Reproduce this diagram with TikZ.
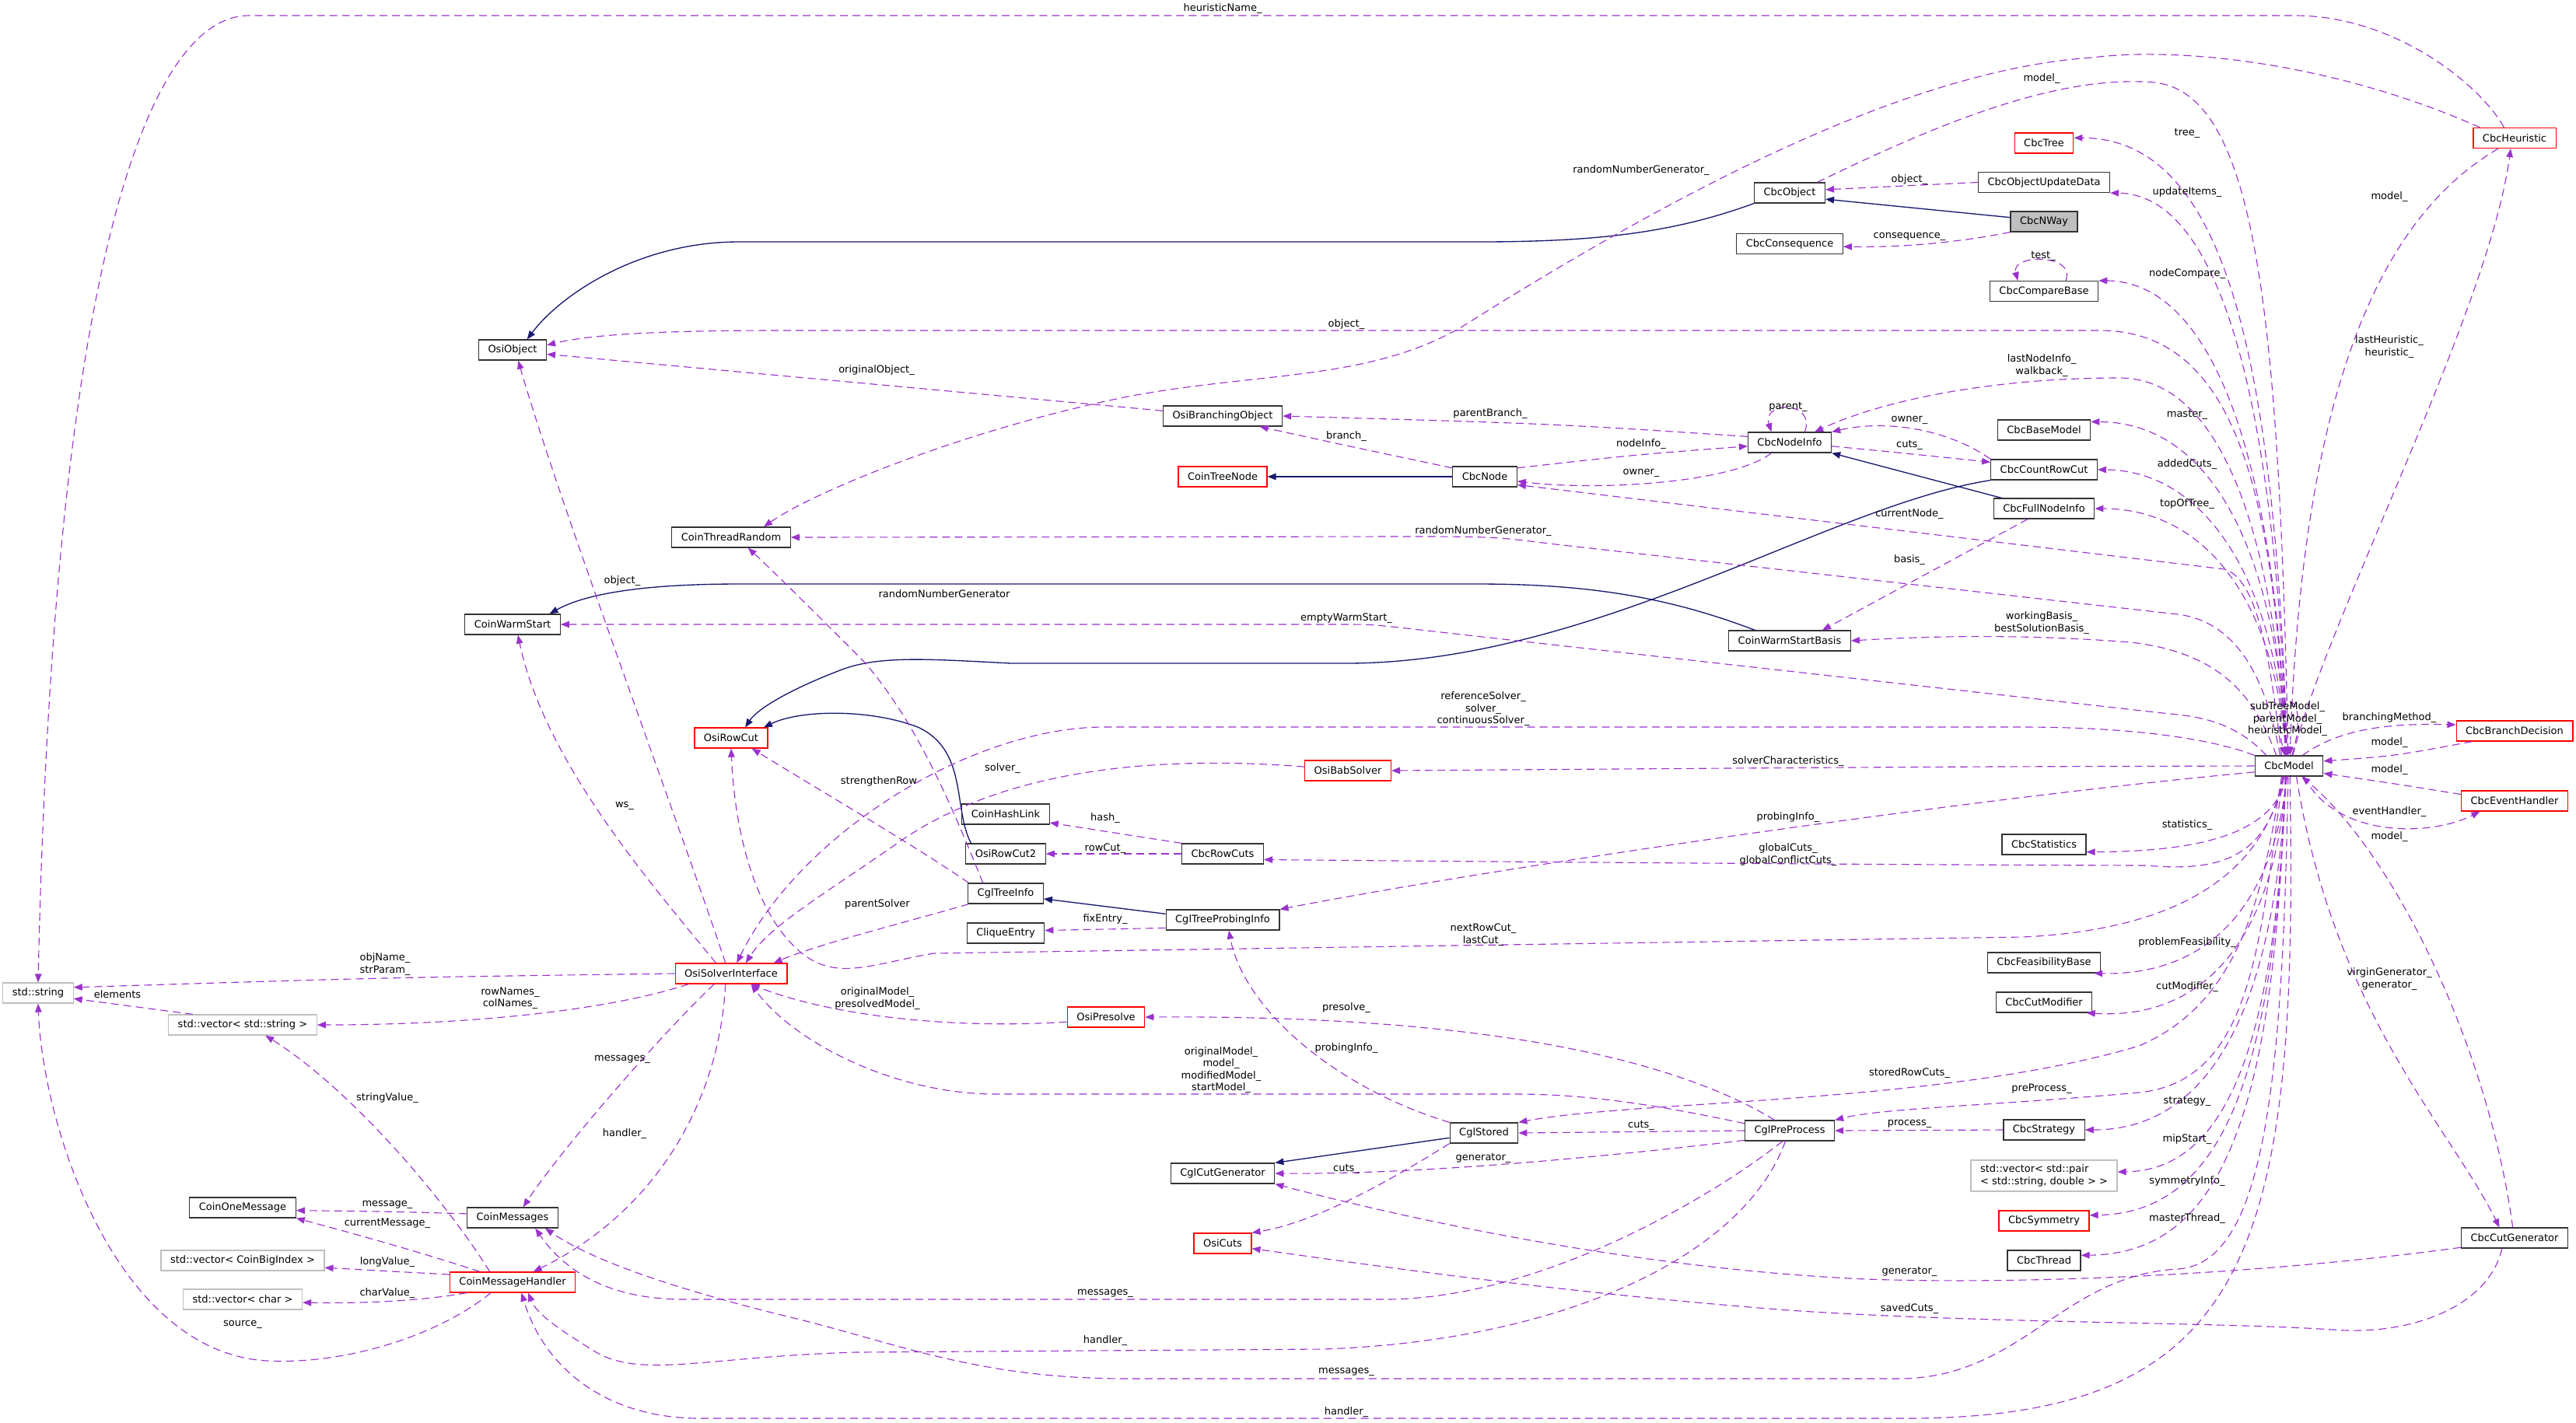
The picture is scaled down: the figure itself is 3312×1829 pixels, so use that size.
\documentclass[tikz,border=0pt]{standalone}
\usepackage{fontspec}
\setmainfont{DejaVu Sans}
\usetikzlibrary{arrows.meta}
\definecolor{usecol}{HTML}{9A32CD}
\definecolor{inhcol}{HTML}{191970}
\definecolor{grey75}{HTML}{BFBFBF}

\begin{document}
\begin{tikzpicture}[
  x=0.01cm, y=-0.01cm,
  font=\fontsize{3.7}{4.4}\selectfont,
  cls/.style={draw=black!80, line width=0.35pt, fill=white, minimum height=0.26cm, inner xsep=0.12cm, inner ysep=0pt},
  clsred/.style={cls, draw=red},
  clsgray/.style={cls, draw=grey75},
  clsmain/.style={cls, fill=grey75},
  usage/.style={-{Triangle[length=1.1mm, width=0.85mm]}, usecol, line width=0.32pt, dash pattern=on 1mm off 0.6mm},
  inh/.style={-{Triangle[length=1.1mm, width=0.85mm]}, inhcol, line width=0.38pt},
  lbl/.style={inner sep=0pt, align=center, text=black},
]
\fill[white] (0,0) rectangle (3312,1829);

% ---- classes, at the pixel positions of the graph ----
\node[clsred]  (heur)      at (3233,177.5) {CbcHeuristic};
\node[clsred]  (tree)      at (2628,184)   {CbcTree};
\node[cls]     (cbcobj)    at (2301,248)   {CbcObject};
\node[cls]     (updata)    at (2628,234.5) {CbcObjectUpdateData};
\node[clsmain] (nway)      at (2628,285)   {CbcNWay};
\node[cls]     (conseq)    at (2301,313.5) {CbcConsequence};
\node[cls]     (cmpbase)   at (2628,374.5) {CbcCompareBase};
\node[cls]     (osiobj)    at (659,450)    {OsiObject};
\node[cls]     (branchobj) at (1572,535)   {OsiBranchingObject};
\node[cls]     (nodeinfo)  at (2301,569)   {CbcNodeInfo};
\node[cls]     (basemodel) at (2628,553)   {CbcBaseModel};
\node[cls]     (countcut)  at (2628,604)   {CbcCountRowCut};
\node[clsred]  (treenode)  at (1572,613)   {CoinTreeNode};
\node[cls]     (cbcnode)   at (1909,613)   {CbcNode};
\node[cls]     (fullinfo)  at (2628,654)   {CbcFullNodeInfo};
\node[cls]     (random)    at (940,691)    {CoinThreadRandom};
\node[cls]     (warm)      at (659,803)    {CoinWarmStart};
\node[cls]     (warmbasis) at (2301,824)   {CoinWarmStartBasis};
\node[clsred]  (rowcut)    at (940,949)    {OsiRowCut};
\node[clsred]  (babsolver) at (1733,991)   {OsiBabSolver};
\node[cls]     (model)     at (2943,985)   {CbcModel};
\node[clsred]  (branchdec) at (3233,940)   {CbcBranchDecision};
\node[clsred]  (evhandler) at (3233,1030)  {CbcEventHandler};
\node[cls]     (hashlink)  at (1293,1047)  {CoinHashLink};
\node[cls]     (rowcut2)   at (1293,1098)  {OsiRowCut2};
\node[cls]     (rowcuts)   at (1572,1098)  {CbcRowCuts};
\node[cls]     (stats)     at (2628,1086)  {CbcStatistics};
\node[cls]     (treeinfo)  at (1293,1149)  {CglTreeInfo};
\node[cls]     (probinfo)  at (1572,1183)  {CglTreeProbingInfo};
\node[cls]     (clique)    at (1293,1200)  {CliqueEntry};
\node[clsgray] (string)    at (49,1277)    {std::string};
\node[clsred]  (solver)    at (940,1252)   {OsiSolverInterface};
\node[clsgray] (vecstring) at (312,1318)   {std::vector< std::string >};
\node[clsred]  (presolve)  at (1422,1308)  {OsiPresolve};
\node[cls]     (feasbase)  at (2628,1238)  {CbcFeasibilityBase};
\node[cls]     (cutmod)    at (2628,1289)  {CbcCutModifier};
\node[cls]     (stored)    at (1908,1457)  {CglStored};
\node[cls]     (preproc)   at (2301,1454)  {CglPreProcess};
\node[cls]     (strategy)  at (2628,1453)  {CbcStrategy};
\node[cls]     (cutgen)    at (1572,1509)  {CglCutGenerator};
\node[clsgray, align=left, minimum height=0.4cm] (vecpair) at (2628,1512) {std::vector< std::pair\\< std::string, double > >};
\node[cls]     (onemsg)    at (312,1553)   {CoinOneMessage};
\node[cls]     (messages)  at (659,1566)   {CoinMessages};
\node[clsred]  (symmetry)  at (2628,1570)  {CbcSymmetry};
\node[clsred]  (osicuts)   at (1572,1599)  {OsiCuts};
\node[cls]     (thread)    at (2628,1621)  {CbcThread};
\node[cls]     (cbccutgen) at (3233,1592)  {CbcCutGenerator};
\node[clsgray] (vecbig)    at (312,1621)   {std::vector< CoinBigIndex >};
\node[clsred]  (msghandler) at (659,1649)  {CoinMessageHandler};
\node[clsgray] (vecchar)   at (312,1671)   {std::vector< char >};

% ---- inheritance ----
\draw[inh] (cbcobj.south west) .. controls (2150,300) and (2050,311) .. (1900,311) -- (950,311)
  .. controls (820,311) and (720,380) .. (osiobj.36);
\draw[inh] (nway.173) -- (cbcobj.-10);
\draw[inh] (cbcnode.west) -- (treenode.east);
\draw[inh] (fullinfo.166) -- (nodeinfo.south east);
\draw[inh] (countcut.south west) .. controls (2350,650) and (2050,853) .. (1730,853) -- (1300,853)
  .. controls (1200,848) and (1130,842) .. (1080,862) .. controls (1020,885) and (975,910) .. (rowcut.37);
\draw[inh] (warmbasis.163) .. controls (2150,770) and (2050,751) .. (1900,751) -- (950,751)
  .. controls (820,751) and (750,765) .. (warm.16);
\draw[inh] (rowcut2.163) .. controls (1225,1040) and (1245,965) .. (1180,935)
  .. controls (1120,912) and (1030,912) .. (rowcut.18);
\draw[inh] (probinfo.174) -- (treeinfo.-8);
\draw[inh] (stored.-172) -- (cutgen.north east);

% ---- std::string and vectors ----
\draw[usage] (heur.135) .. controls (3190,110) and (3080,20) .. (2950,20) -- (320,20)
  .. controls (200,20) and (70,300) .. (string.north)
  node[lbl, at={(1572,11)}] {heuristicName\_};
\draw[usage] (solver.west) .. controls (500,1257) .. (string.9)
  node[lbl, at={(495,1240)}] {objName\_\\strParam\_};
\draw[usage] (vecstring.168) -- (string.-9)
  node[lbl, at={(151,1279)}] {elements};
\draw[usage] (msghandler.-154) .. controls (560,1720) and (440,1755) .. (344,1750)
  .. controls (150,1740) and (55,1450) .. (string.south)
  node[lbl, at={(312,1703)}] {source\_};
\draw[usage] (solver.-166) .. controls (780,1300) and (600,1318) .. (vecstring.east)
  node[lbl, at={(656,1284)}] {rowNames\_\\colNames\_};
\draw[usage] (msghandler.155) .. controls (570,1540) and (450,1400) .. (vecstring.-25)
  node[lbl, at={(498,1412)}] {stringValue\_};

% ---- OsiObject, CoinWarmStart, CoinThreadRandom ----
\draw[usage] (model.108) .. controls (2925,650) and (2880,425) .. (2700,425) -- (1000,425)
  .. controls (850,425) and (760,430) .. (osiobj.8)
  node[lbl, at={(1731,417)}] {object\_};
\draw[usage] (branchobj.175) -- (osiobj.-7)
  node[lbl, at={(1127,476)}] {originalObject\_};
\draw[usage] (solver.118) .. controls (870,1050) and (720,650) .. (osiobj.-62)
  node[lbl, at={(800,747)}] {object\_};
\draw[usage] (solver.145) .. controls (840,1140) and (700,980) .. (warm.-63)
  node[lbl, at={(803,1036)}] {ws\_};
\draw[usage] (model.155) .. controls (2880,935) and (2840,922) .. (2790,918) -- (1790,806)
  .. controls (1760,803) .. (1720,803) -- (warm.east)
  node[lbl, at={(1731,795)}] {emptyWarmStart\_};
\draw[usage] (heur.163) .. controls (3000,80) and (2800,60) .. (2690,74)
  .. controls (2450,90) and (2150,250) .. (1880,420) .. controls (1760,490) and (1620,478) .. (1450,510)
  .. controls (1250,550) and (1050,630) .. (random.18)
  node[lbl, at={(2110,219)}] {randomNumberGenerator\_};
\draw[usage] (model.130) .. controls (2915,880) and (2880,800) .. (2800,790) -- (2000,700)
  .. controls (1920,690) .. (1800,690) -- (random.east)
  node[lbl, at={(1907,683)}] {randomNumberGenerator\_};
\draw[usage] (treeinfo.155) .. controls (1225,1040) and (1180,930) .. (1110,850)
  .. controls (1060,800) and (1000,740) .. (random.-32)
  node[lbl, at={(1214,764)}] {randomNumberGenerator};

% ---- OsiRowCut and OsiSolverInterface ----
\draw[usage] (treeinfo.164) .. controls (1180,1090) and (1060,1020) .. (rowcut.-27)
  node[lbl, at={(1130,1005)}] {strengthenRow};
\draw[usage] (model.-120) .. controls (2915,1110) and (2820,1195) .. (2600,1205) -- (1200,1226)
  .. controls (1120,1240) and (1075,1262) .. (1030,1225) .. controls (975,1180) and (945,1080) .. (rowcut.-90)
  node[lbl, at={(1907,1202)}] {nextRowCut\_\\lastCut\_};
\draw[usage] (model.163) .. controls (2850,952) and (2750,935) .. (2600,935) -- (1420,935)
  .. controls (1250,935) and (1030,1070) .. (solver.62)
  node[lbl, at={(1907,912)}] {referenceSolver\_\\solver\_\\continuousSolver\_};
\draw[usage] (babsolver.175) .. controls (1500,972) and (1300,985) .. (1160,1080)
  .. controls (1060,1150) and (990,1190) .. (solver.36)
  node[lbl, at={(1289,988)}] {solver\_};
\draw[usage] (treeinfo.-164) .. controls (1150,1190) and (1050,1215) .. (solver.14)
  node[lbl, at={(1128,1163)}] {parentSolver};
\draw[usage] (presolve.-173) .. controls (1200,1325) and (1050,1300) .. (solver.-28)
  node[lbl, at={(1128,1284)}] {originalModel\_\\presolvedModel\_};
\draw[usage] (preproc.171) .. controls (2150,1425) and (2050,1407) .. (1950,1407) -- (1280,1407)
  .. controls (1150,1407) and (1020,1340) .. (solver.-28)
  node[lbl, at={(1570,1376)}] {originalModel\_\\model\_\\modifiedModel\_\\startModel\_};
\draw[usage] (model.west) .. controls (2500,986) .. (babsolver.east)
  node[lbl, at={(2299,979)}] {solverCharacteristics\_};

% ---- messages and handlers ----
\draw[usage] (solver.-148) .. controls (850,1330) and (720,1480) .. (messages.45)
  node[lbl, at={(800,1362)}] {messages\_};
\draw[usage] (solver.-118) .. controls (925,1420) and (840,1560) .. (msghandler.27)
  node[lbl, at={(803,1458)}] {handler\_};
\draw[usage] (messages.175) .. controls (500,1558) .. (onemsg.-3)
  node[lbl, at={(498,1549)}] {message\_};
\draw[usage] (msghandler.162) .. controls (540,1610) and (450,1585) .. (onemsg.south east)
  node[lbl, at={(498,1573)}] {currentMessage\_};
\draw[usage] (msghandler.173) -- (vecbig.-5)
  node[lbl, at={(498,1623)}] {longValue\_};
\draw[usage] (msghandler.-167) .. controls (530,1675) and (450,1676) .. (vecchar.-3)
  node[lbl, at={(498,1663)}] {charValue\_};
\draw[usage] (preproc.-124) .. controls (2200,1540) and (1980,1671) .. (1780,1671) -- (880,1671)
  .. controls (790,1671) and (730,1640) .. (messages.-25)
  node[lbl, at={(1421,1663)}] {messages\_};
\draw[usage] (preproc.-112) .. controls (2240,1620) and (2000,1725) .. (1700,1735) -- (1100,1739)
  .. controls (900,1745) and (820,1775) .. (760,1735) .. controls (720,1710) and (690,1690) .. (msghandler.-34)
  node[lbl, at={(1421,1724)}] {handler\_};
\draw[usage] (model.-95) .. controls (2935,1400) and (2910,1625) .. (2800,1632)
  .. controls (2650,1640) and (2600,1773) .. (2440,1773) -- (1450,1773)
  .. controls (1250,1773) and (1150,1725) .. (1000,1690) .. controls (860,1655) and (760,1620) .. (messages.-18)
  node[lbl, at={(1731,1764)}] {messages\_};
\draw[usage] (model.-85) .. controls (2955,1600) and (2900,1824) .. (2450,1824) -- (900,1824)
  .. controls (780,1824) and (700,1760) .. (msghandler.-50)
  node[lbl, at={(1731,1816)}] {handler\_};

% ---- CbcHeuristic and CbcObject ----
\draw[usage] (heur.-147) .. controls (3060,280) and (2960,500) .. (model.85)
  node[lbl, at={(3072,253)}] {model\_};
\draw[usage] (model.70) .. controls (2990,800) and (3200,400) .. (heur.-110)
  node[lbl, at={(3072,446)}] {lastHeuristic\_\\heuristic\_};
\draw[usage] (cbcobj.21) .. controls (2480,165) and (2640,95) .. (2770,106)
  .. controls (2900,120) and (2930,400) .. (model.95)
  node[lbl, at={(2625,101)}] {model\_};
\draw[usage] (updata.west) .. controls (2450,238) .. (cbcobj.5)
  node[lbl, at={(2455,231)}] {object\_};
\draw[usage] (nway.south west) .. controls (2500,315) and (2430,318) .. (conseq.-3)
  node[lbl, at={(2455,304)}] {consequence\_};
\draw[usage] (cmpbase.26) .. controls (2670,326) and (2585,326) .. (cmpbase.158)
  node[lbl, at={(2627,329)}] {test\_};

% ---- CbcModel members, upper column ----
\draw[usage] (model.100) .. controls (2925,456) and (2860,178) .. (tree.10)
  node[lbl, at={(2812,171)}] {tree\_};
\draw[usage] (model.102) .. controls (2925,500) and (2850,250) .. (updata.south east)
  node[lbl, at={(2812,247)}] {updateItems\_};
\draw[usage] (model.104) .. controls (2925,575) and (2840,362) .. (cmpbase.north east)
  node[lbl, at={(2812,352)}] {nodeCompare\_};
\draw[usage] (model.100) .. controls (2925,700) and (2840,543) .. (basemodel.10)
  node[lbl, at={(2812,533)}] {master\_};
\draw[usage] (model.103) .. controls (2925,735) and (2830,605) .. (countcut.east)
  node[lbl, at={(2812,597)}] {addedCuts\_};
\draw[usage] (model.106) .. controls (2925,765) and (2830,654) .. (fullinfo.east)
  node[lbl, at={(2812,648)}] {topOfTree\_};
\draw[usage] (model.106) .. controls (2925,700) and (2860,486) .. (2725,486)
  .. controls (2560,486) and (2420,515) .. (nodeinfo.23)
  node[lbl, at={(2625,470)}] {lastNodeInfo\_\\walkback\_};
\draw[usage] (model.125) .. controls (2920,860) and (2905,745) .. (2860,732) -- (cbcnode.-14)
  node[lbl, at={(2455,661)}] {currentNode\_};
\draw[usage] (model.140) .. controls (2900,900) and (2860,840) .. (2740,826)
  .. controls (2600,815) and (2480,818) .. (warmbasis.east)
  node[lbl, at={(2625,801)}] {workingBasis\_\\bestSolutionBasis\_};
\draw[usage] (model.75) .. controls (2975,880) and (2915,880) .. (model.112)
  node[lbl, at={(2941,925)}] {subTreeModel\_\\parentModel\_\\heuristicModel\_};

% ---- node tree ----
\draw[usage] (nodeinfo.35) .. controls (2335,515) and (2265,515) .. (nodeinfo.150)
  node[lbl, at={(2299,523)}] {parent\_};
\draw[usage] (countcut.north west) .. controls (2510,555) and (2430,538) .. (nodeinfo.north east)
  node[lbl, at={(2455,540)}] {owner\_};
\draw[usage] (nodeinfo.-5) .. controls (2450,583) .. (countcut.172)
  node[lbl, at={(2455,572)}] {cuts\_};
\draw[usage] (nodeinfo.172) .. controls (2000,545) .. (branchobj.east)
  node[lbl, at={(1916,532)}] {parentBranch\_};
\draw[usage] (cbcnode.165) .. controls (1740,575) .. (branchobj.-16)
  node[lbl, at={(1731,561)}] {branch\_};
\draw[usage] (cbcnode.15) .. controls (2100,585) .. (nodeinfo.-175)
  node[lbl, at={(2110,571)}] {nodeInfo\_};
\draw[usage] (nodeinfo.-150) .. controls (2230,620) and (2060,632) .. (cbcnode.-8)
  node[lbl, at={(2110,608)}] {owner\_};
\draw[usage] (fullinfo.-147) -- (warmbasis.18)
  node[lbl, at={(2455,720)}] {basis\_};

% ---- cuts and probing ----
\draw[usage] (rowcuts.north west) -- (hashlink.-11)
  node[lbl, at={(1421,1052)}] {hash\_};
\draw[usage] (rowcuts.west) -- (rowcut2.east)
  node[lbl, at={(1421,1091)}] {rowCut\_};
\draw[usage] (model.-115) .. controls (2915,1100) and (2860,1122) .. (2760,1113)
  .. controls (2400,1112) and (1900,1108) .. (rowcuts.-8)
  node[lbl, at={(2299,1099)}] {globalCuts\_\\globalConflictCuts\_};
\draw[usage] (model.-170) .. controls (2500,1030) and (1900,1120) .. (probinfo.north east)
  node[lbl, at={(2299,1051)}] {probingInfo\_};
\draw[usage] (probinfo.-172) .. controls (1420,1195) .. (clique.4)
  node[lbl, at={(1421,1182)}] {fixEntry\_};
\draw[usage] (stored.north west) .. controls (1720,1400) and (1600,1300) .. (probinfo.-60)
  node[lbl, at={(1731,1348)}] {probingInfo\_};
\draw[usage] (stored.south west) .. controls (1800,1510) and (1700,1570) .. (osicuts.north east)
  node[lbl, at={(1731,1503)}] {cuts\_};

% ---- preprocessing ----
\draw[usage] (model.-125) .. controls (2910,1150) and (2880,1290) .. (2750,1345)
  .. controls (2500,1420) and (2100,1415) .. (stored.north east)
  node[lbl, at={(2455,1380)}] {storedRowCuts\_};
\draw[usage] (model.-118) .. controls (2905,1200) and (2900,1390) .. (2750,1405)
  .. controls (2560,1422) and (2420,1425) .. (preproc.north east)
  node[lbl, at={(2625,1400)}] {preProcess\_};
\draw[usage] (preproc.west) -- (stored.east)
  node[lbl, at={(2110,1447)}] {cuts\_};
\draw[usage] (preproc.-168) .. controls (2000,1495) and (1800,1510) .. (cutgen.east)
  node[lbl, at={(1907,1489)}] {generator\_};
\draw[usage] (preproc.145) .. controls (2150,1360) and (1900,1305) .. (presolve.east)
  node[lbl, at={(1731,1296)}] {presolve\_};
\draw[usage] (strategy.west) -- (preproc.east)
  node[lbl, at={(2455,1445)}] {process\_};

% ---- cut generators ----
\draw[usage] (model.-55) .. controls (3000,1300) and (3150,1450) .. (cbccutgen.145)
  node[lbl, at={(3072,1259)}] {virginGenerator\_\\generator\_};
\draw[usage] (cbccutgen.100) .. controls (3200,1350) and (3080,1100) .. (model.-40)
  node[lbl, at={(3072,1076)}] {model\_};
\draw[usage] (cbccutgen.-170) .. controls (2900,1640) and (2600,1652) .. (2400,1645)
  .. controls (2100,1632) and (1800,1565) .. (cutgen.south east)
  node[lbl, at={(2455,1635)}] {generator\_};
\draw[usage] (cbccutgen.-140) .. controls (3200,1680) and (3100,1718) .. (3000,1710)
  .. controls (2850,1700) and (2550,1702) .. (2300,1685) .. controls (2000,1662) and (1750,1625) .. (osicuts.-10)
  node[lbl, at={(2455,1683)}] {savedCuts\_};

% ---- decision and event handler ----
\draw[usage] (branchdec.-166) .. controls (3080,972) .. (model.8)
  node[lbl, at={(3072,955)}] {model\_};
\draw[usage] (model.38) .. controls (3010,935) and (3080,930) .. (branchdec.174)
  node[lbl, at={(3072,923)}] {branchingMethod\_};
\draw[usage] (evhandler.173) .. controls (3080,1008) .. (model.-12)
  node[lbl, at={(3072,990)}] {model\_};
\draw[usage] (model.-35) .. controls (3000,1075) and (3120,1078) .. (evhandler.-163)
  node[lbl, at={(3072,1044)}] {eventHandler\_};

% ---- CbcModel members, lower column ----
\draw[usage] (model.-100) .. controls (2925,1060) and (2860,1095) .. (stats.-10)
  node[lbl, at={(2812,1061)}] {statistics\_};
\draw[usage] (model.-102) .. controls (2925,1150) and (2850,1255) .. (feasbase.-12)
  node[lbl, at={(2812,1212)}] {problemFeasibility\_};
\draw[usage] (model.-104) .. controls (2925,1200) and (2840,1312) .. (cutmod.-14)
  node[lbl, at={(2812,1269)}] {cutModifier\_};
\draw[usage] (model.-106) .. controls (2925,1300) and (2840,1453) .. (strategy.east)
  node[lbl, at={(2812,1416)}] {strategy\_};
\draw[usage] (model.-106) .. controls (2925,1350) and (2860,1505) .. (vecpair.3)
  node[lbl, at={(2812,1465)}] {mipStart\_};
\draw[usage] (model.-108) .. controls (2925,1400) and (2850,1560) .. (symmetry.7)
  node[lbl, at={(2812,1519)}] {symmetryInfo\_};
\draw[usage] (model.-110) .. controls (2925,1450) and (2850,1612) .. (thread.8)
  node[lbl, at={(2812,1567)}] {masterThread\_};

\end{tikzpicture}
\end{document}
